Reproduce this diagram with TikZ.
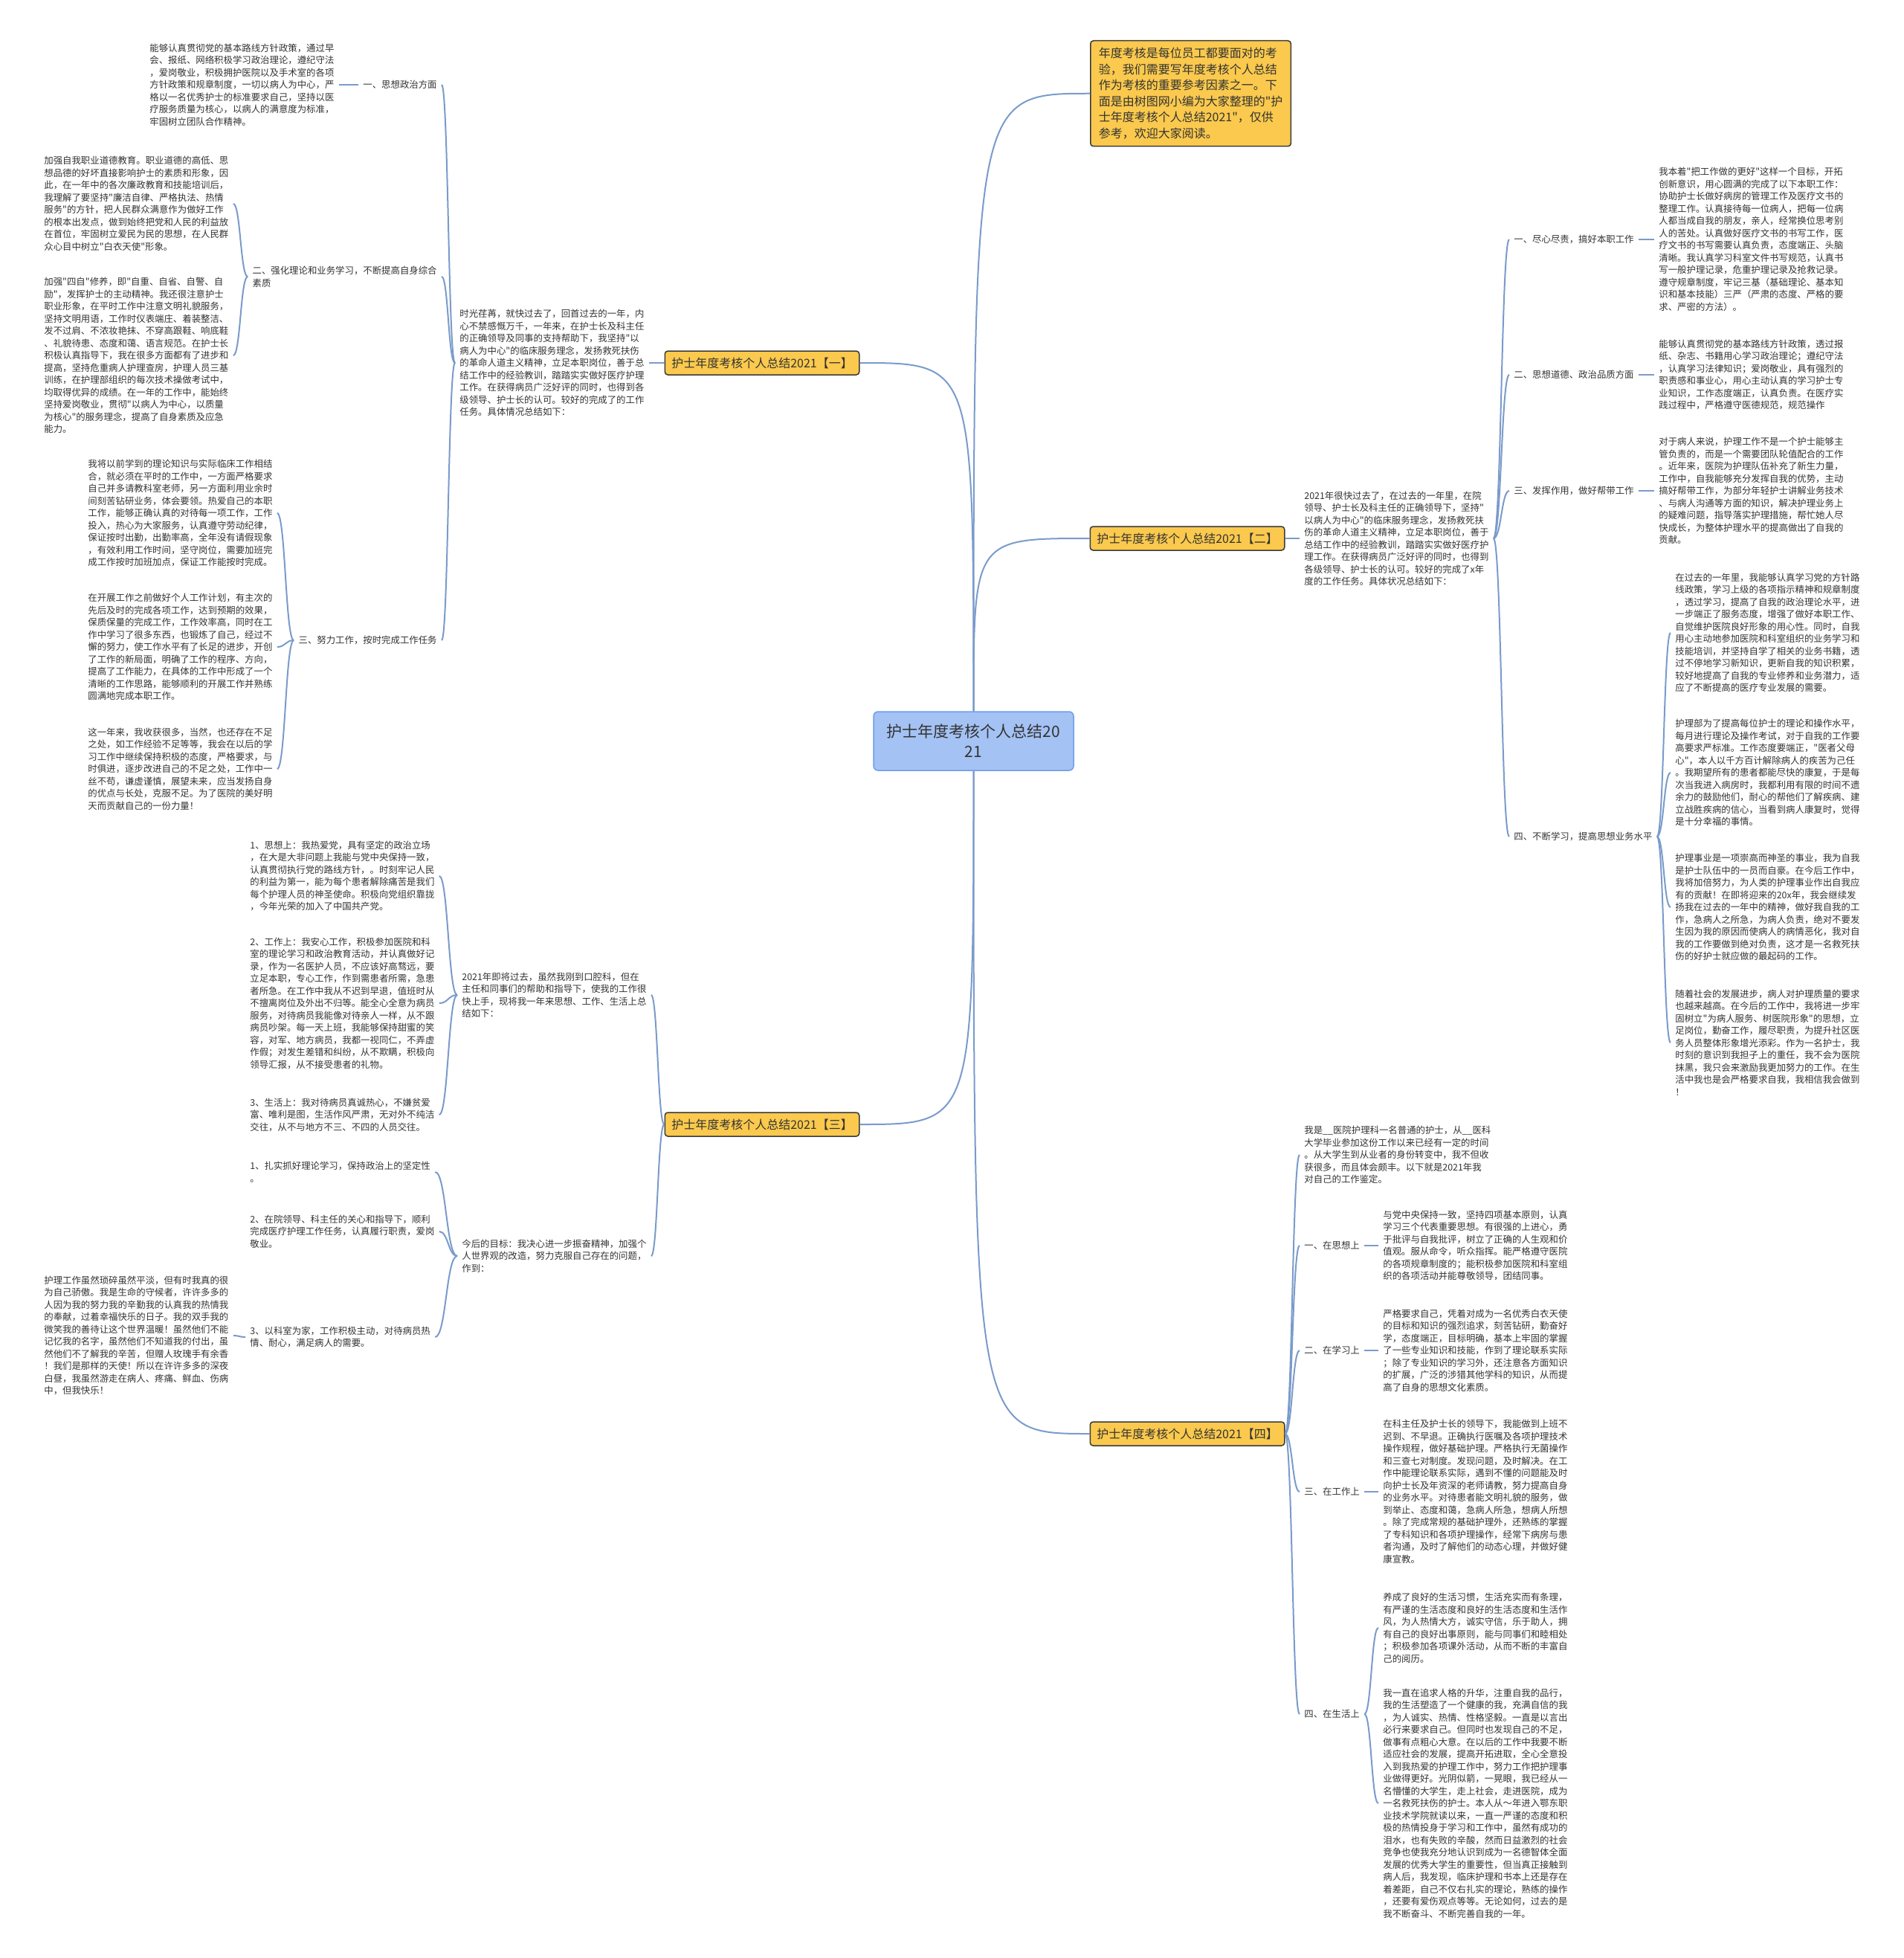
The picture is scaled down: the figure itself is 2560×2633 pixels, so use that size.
\documentclass[tikz,border=0pt]{standalone}
\usepackage{fontspec}
\setmainfont{Noto Sans CJK SC}
\newfontfamily\cjk{Noto Sans CJK SC}
\usetikzlibrary{calc}
\definecolor{yel}{HTML}{FAC94D}
\definecolor{brd}{HTML}{3A3A3A}
\definecolor{cfill}{HTML}{A4C2F4}
\definecolor{cbrd}{HTML}{6D9EEB}
\definecolor{linkc}{HTML}{7A9BCB}
\definecolor{txtc}{HTML}{333333}
\begin{document}
\begin{tikzpicture}[x=0.5pt,y=-0.5pt,
  blk/.style={font=\cjk\fontsize{6.2pt}{8.25pt}\selectfont, text=txtc, align=left, inner xsep=3pt, inner ysep=1pt, anchor=west},
  lblr/.style={blk, anchor=east},
  br/.style={draw=brd, fill=yel, rounded corners=2pt, line width=0.75pt, font=\cjk\fontsize{8pt}{10pt}\selectfont, text=txtc, inner xsep=4.5pt, inner ysep=0pt, minimum height=16pt},
  trbox/.style={draw=brd, fill=yel, rounded corners=2pt, line width=0.75pt, font=\cjk\fontsize{8pt}{10.75pt}\selectfont, text=txtc, align=left, minimum width=131.5pt, minimum height=71pt, inner xsep=5.5pt, anchor=north west},
  cnode/.style={draw=cbrd, fill=cfill, rounded corners=3pt, line width=0.75pt, minimum width=134.5pt, minimum height=39.5pt, align=center, font=\cjk\fontsize{10.5pt}{13.5pt}\selectfont, text=txtc},
  conn/.style={draw=linkc, line width=1pt},
  brk/.style={to path={let \p1=(\tikztostart), \p2=(\tikztotarget) in .. controls ({0.5*\x1+0.5*\x2},\y1) and ({0.5*\x1+0.5*\x2},\y2) .. (\tikztotarget)}}
]
\fill[white] (0,0) rectangle (2560,2633);
\path[use as bounding box] (0,0) rectangle (2560,2633);

% ---------- centre and main branches ----------
\node[cnode] (C) at (1309.5,996.5) {护士年度考核个人总结20\\21};
\node[br] (B1) at (1025,488) {护士年度考核个人总结2021【一】};
\node[br] (B3) at (1025,1512) {护士年度考核个人总结2021【三】};
\node[br] (B2) at (1597,724) {护士年度考核个人总结2021【二】};
\node[br] (B4) at (1597,1928) {护士年度考核个人总结2021【四】};
\node[trbox] (T) at (1466,54) {年度考核是每位员工都要面对的考\\验，我们需要写年度考核个人总结\\作为考核的重要参考因素之一。下\\面是由树图网小编为大家整理的"护\\士年度考核个人总结2021"，仅供\\参考，欢迎大家阅读。};

% ---------- branch 1 ----------
\node[blk] (I1) at (612,488) {时光荏苒，就快过去了，回首过去的一年，内\\心不禁感慨万千，一年来，在护士长及科主任\\的正确领导及同事的支持帮助下，我坚持"以\\病人为中心"的临床服务理念，发扬救死扶伤\\的革命人道主义精神，立足本职岗位，善于总\\结工作中的经验教训，踏踏实实做好医疗护理\\工作。在获得病员广泛好评的同时，也得到各\\级领导、护士长的认可。较好的完成了的工作\\任务。具体情况总结如下：};
\node[lblr] (L1) at (594,114) {一、思想政治方面};
\node[lblr] (L2) at (594,372) {二、强化理论和业务学习，不断提高自身综合\\素质};
\node[lblr] (L3) at (594,861) {三、努力工作，按时完成工作任务};
\node[blk] (A1) at (195,114) {能够认真贯彻党的基本路线方针政策，通过早\\会、报纸、网络积极学习政治理论，遵纪守法\\，爱岗敬业，积极拥护医院以及手术室的各项\\方针政策和规章制度，一切以病人为中心，严\\格以一名优秀护士的标准要求自己，坚持以医\\疗服务质量为核心，以病人的满意度为标准，\\牢固树立团队合作精神。};
\node[blk] (A2) at (53,274) {加强自我职业道德教育。职业道德的高低、思\\想品德的好坏直接影响护士的素质和形象，因\\此，在一年中的各次廉政教育和技能培训后，\\我理解了要坚持"廉洁自律、严格执法、热情\\服务"的方针，把人民群众满意作为做好工作\\的根本出发点，做到始终把党和人民的利益放\\在首位，牢固树立爱民为民的思想，在人民群\\众心目中树立"白衣天使"形象。};
\node[blk] (A3) at (53,478) {加强"四自"修养，即"自重、自省、自警、自\\励"，发挥护士的主动精神。我还很注意护士\\职业形象，在平时工作中注意文明礼貌服务，\\坚持文明用语，工作时仪表端庄、着装整洁、\\发不过肩、不浓妆艳抹、不穿高跟鞋、响底鞋\\、礼貌待患、态度和蔼、语言规范。在护士长\\积极认真指导下，我在很多方面都有了进步和\\提高，坚持危重病人护理查房，护理人员三基\\训练，在护理部组织的每次技术操做考试中，\\均取得优异的成绩。在一年的工作中，能始终\\坚持爱岗敬业，贯彻"以病人为中心，以质量\\为核心"的服务理念，提高了自身素质及应急\\能力。};
\node[blk] (BB1) at (112,690) {我将以前学到的理论知识与实际临床工作相结\\合，就必须在平时的工作中，一方面严格要求\\自己并多请教科室老师，另一方面利用业余时\\间刻苦钻研业务，体会要领。热爱自己的本职\\工作，能够正确认真的对待每一项工作，工作\\投入，热心为大家服务，认真遵守劳动纪律，\\保证按时出勤，出勤率高，全年没有请假现象\\，有效利用工作时间，坚守岗位，需要加班完\\成工作按时加班加点，保证工作能按时完成。};
\node[blk] (BB2) at (112,870) {在开展工作之前做好个人工作计划，有主次的\\先后及时的完成各项工作，达到预期的效果，\\保质保量的完成工作，工作效率高，同时在工\\作中学习了很多东西，也锻炼了自己，经过不\\懈的努力，使工作水平有了长足的进步，开创\\了工作的新局面，明确了工作的程序、方向，\\提高了工作能力，在具体的工作中形成了一个\\清晰的工作思路，能够顺利的开展工作并熟练\\圆满地完成本职工作。};
\node[blk] (BB3) at (112,1034) {这一年来，我收获很多，当然，也还存在不足\\之处，如工作经验不足等等，我会在以后的学\\习工作中继续保持积极的态度，严格要求，与\\时俱进，逐步改进自己的不足之处，工作中一\\丝不苟，谦虚谨慎，展望未来，应当发扬自身\\的优点与长处，克服不足。为了医院的美好明\\天而贡献自己的一份力量！};

% ---------- branch 3 ----------
\node[blk] (I3a) at (615,1338) {2021年即将过去，虽然我刚到口腔科，但在\\主任和同事们的帮助和指导下，使我的工作很\\快上手，现将我一年来思想、工作、生活上总\\结如下：};
\node[blk] (I3b) at (615,1689) {今后的目标：我决心进一步振奋精神，加强个\\人世界观的改造，努力克服自己存在的问题，\\作到：};
\node[blk] (C1) at (330,1178) {1、思想上：我热爱党，具有坚定的政治立场\\，在大是大非问题上我能与党中央保持一致，\\认真贯彻执行党的路线方针，。时刻牢记人民\\的利益为第一，能为每个患者解除痛苦是我们\\每个护理人员的神圣使命。积极向党组织靠拢\\，今年光荣的加入了中国共产党。};
\node[blk] (C2) at (330,1349) {2、工作上：我安心工作，积极参加医院和科\\室的理论学习和政治教育活动，并认真做好记\\录，作为一名医护人员，不应该好高骛远，要\\立足本职，专心工作，作到需患者所需，急患\\者所急。在工作中我从不迟到早退，值班时从\\不擅离岗位及外出不归等。能全心全意为病员\\服务，对待病员我能像对待亲人一样，从不跟\\病员吵架。每一天上班，我能够保持甜蜜的笑\\容，对军、地方病员，我都一视同仁，不弄虚\\作假；对发生差错和纠纷，从不欺瞒，积极向\\领导汇报，从不接受患者的礼物。};
\node[blk] (C3) at (330,1499) {3、生活上：我对待病员真诚热心，不嫌贫爱\\富、唯利是图，生活作风严肃，无对外不纯洁\\交往，从不与地方不三、不四的人员交往。};
\node[blk] (D1) at (330,1576) {1、扎实抓好理论学习，保持政治上的坚定性\\。};
\node[blk] (D2) at (330,1656) {2、在院领导、科主任的关心和指导下，顺利\\完成医疗护理工作任务，认真履行职责，爱岗\\敬业。};
\node[blk] (D3) at (330,1798) {3、以科室为家，工作积极主动，对待病员热\\情、耐心，满足病人的需要。};
\node[blk] (F) at (53,1796) {护理工作虽然琐碎虽然平淡，但有时我真的很\\为自己骄傲。我是生命的守候者，许许多多的\\人因为我的努力我的辛勤我的认真我的热情我\\的奉献，过着幸福快乐的日子。我的双手我的\\微笑我的善待让这个世界温暖！虽然他们不能\\记忆我的名字，虽然他们不知道我的付出，虽\\然他们不了解我的辛苦，但赠人玫瑰手有余香\\！我们是那样的天使！所以在许许多多的深夜\\白昼，我虽然游走在病人、疼痛、鲜血、伤病\\中，但我快乐！};

% ---------- branch 2 ----------
\node[blk] (I2) at (1748,724) {2021年很快过去了，在过去的一年里，在院\\领导、护士长及科主任的正确领导下，坚持"\\以病人为中心"的临床服务理念，发扬救死扶\\伤的革命人道主义精神，立足本职岗位，善于\\总结工作中的经验教训，踏踏实实做好医疗护\\理工作。在获得病员广泛好评的同时，也得到\\各级领导、护士长的认可。较好的完成了x年\\度的工作任务。具体状况总结如下：};
\node[blk] (R1) at (2030,322) {一、尽心尽责，搞好本职工作};
\node[blk] (R2) at (2030,504) {二、思想道德、政治品质方面};
\node[blk] (R3) at (2030,660) {三、发挥作用，做好帮带工作};
\node[blk] (R4) at (2030,1125) {四、不断学习，提高思想业务水平};
\node[blk] (H1) at (2225,322) {我本着"把工作做的更好"这样一个目标，开拓\\创新意识，用心圆满的完成了以下本职工作：\\协助护士长做好病房的管理工作及医疗文书的\\整理工作。认真接待每一位病人，把每一位病\\人都当成自我的朋友，亲人，经常换位思考别\\人的苦处。认真做好医疗文书的书写工作，医\\疗文书的书写需要认真负责，态度端正、头脑\\清晰。我认真学习科室文件书写规范，认真书\\写一般护理记录，危重护理记录及抢救记录。\\遵守规章制度，牢记三基（基础理论、基本知\\识和基本技能）三严（严肃的态度、严格的要\\求、严密的方法）。};
\node[blk] (H2) at (2225,504) {能够认真贯彻党的基本路线方针政策，透过报\\纸、杂志、书籍用心学习政治理论；遵纪守法\\，认真学习法律知识；爱岗敬业，具有强烈的\\职责感和事业心，用心主动认真的学习护士专\\业知识，工作态度端正，认真负责。在医疗实\\践过程中，严格遵守医德规范，规范操作};
\node[blk] (H3) at (2225,660) {对于病人来说，护理工作不是一个护士能够主\\管负责的，而是一个需要团队轮值配合的工作\\。近年来，医院为护理队伍补充了新生力量，\\工作中，自我能够充分发挥自我的优势，主动\\搞好帮带工作，为部分年轻护士讲解业务技术\\、与病人沟通等方面的知识，解决护理业务上\\的疑难问题，指导落实护理措施，帮忙她人尽\\快成长，为整体护理水平的提高做出了自我的\\贡献。};
\node[blk] (H4) at (2247,851) {在过去的一年里，我能够认真学习党的方针路\\线政策，学习上级的各项指示精神和规章制度\\，透过学习，提高了自我的政治理论水平，进\\一步端正了服务态度，增强了做好本职工作、\\自觉维护医院良好形象的用心性。同时，自我\\用心主动地参加医院和科室组织的业务学习和\\技能培训，并坚持自学了相关的业务书籍，透\\过不停地学习新知识，更新自我的知识积累，\\较好地提高了自我的专业修养和业务潜力，适\\应了不断提高的医疗专业发展的需要。};
\node[blk] (H5) at (2247,1039) {护理部为了提高每位护士的理论和操作水平，\\每月进行理论及操作考试，对于自我的工作要\\高要求严标准。工作态度要端正，"医者父母\\心"，本人以千方百计解除病人的疾苦为己任\\。我期望所有的患者都能尽快的康复，于是每\\次当我进入病房时，我都利用有限的时间不遗\\余力的鼓励他们，耐心的帮他们了解疾病、建\\立战胜疾病的信心，当看到病人康复时，觉得\\是十分幸福的事情。};
\node[blk] (H6) at (2247,1220) {护理事业是一项崇高而神圣的事业，我为自我\\是护士队伍中的一员而自豪。在今后工作中，\\我将加倍努力，为人类的护理事业作出自我应\\有的贡献！在即将迎来的20x年，我会继续发\\扬我在过去的一年中的精神，做好我自我的工\\作，急病人之所急，为病人负责，绝对不要发\\生因为我的原因而使病人的病情恶化，我对自\\我的工作要做到绝对负责，这才是一名救死扶\\伤的好护士就应做的最起码的工作。};
\node[blk] (H7) at (2247,1402) {随着社会的发展进步，病人对护理质量的要求\\也越来越高。在今后的工作中，我将进一步牢\\固树立"为病人服务、树医院形象"的思想，立\\足岗位，勤奋工作，履尽职责，为提升社区医\\务人员整体形象增光添彩。作为一名护士，我\\时刻的意识到我担子上的重任，我不会为医院\\抹黑，我只会来激励我更加努力的工作。在生\\活中我也是会严格要求自我，我相信我会做到\\！};

% ---------- branch 4 ----------
\node[blk] (I4) at (1748,1553) {我是\_\_医院护理科一名普通的护士，从\_\_医科\\大学毕业参加这份工作以来已经有一定的时间\\。从大学生到从业者的身份转变中，我不但收\\获很多，而且体会颇丰。以下就是2021年我\\对自己的工作鉴定。};
\node[blk] (KL1) at (1748,1675) {一、在思想上};
\node[blk] (KL2) at (1748,1816) {二、在学习上};
\node[blk] (KL3) at (1748,2006) {三、在工作上};
\node[blk] (KL4) at (1748,2305) {四、在生活上};
\node[blk] (K1) at (1854,1675) {与党中央保持一致，坚持四项基本原则，认真\\学习三个代表重要思想。有很强的上进心，勇\\于批评与自我批评，树立了正确的人生观和价\\值观。服从命令，听众指挥。能严格遵守医院\\的各项规章制度的；能积极参加医院和科室组\\织的各项活动并能尊敬领导，团结同事。};
\node[blk] (K2) at (1854,1816) {严格要求自己，凭着对成为一名优秀白衣天使\\的目标和知识的强烈追求，刻苦钻研，勤奋好\\学，态度端正，目标明确，基本上牢固的掌握\\了一些专业知识和技能，作到了理论联系实际\\；除了专业知识的学习外，还注意各方面知识\\的扩展，广泛的涉猎其他学科的知识，从而提\\高了自身的思想文化素质。};
\node[blk] (K3) at (1854,2006) {在科主任及护士长的领导下，我能做到上班不\\迟到、不早退。正确执行医嘱及各项护理技术\\操作规程，做好基础护理。严格执行无菌操作\\和三查七对制度。发现问题，及时解决。在工\\作中能理论联系实际，遇到不懂的问题能及时\\向护士长及年资深的老师请教，努力提高自身\\的业务水平。对待患者能文明礼貌的服务，做\\到举止、态度和蔼，急病人所急，想病人所想\\。除了完成常规的基础护理外，还熟练的掌握\\了专科知识和各项护理操作，经常下病房与患\\者沟通，及时了解他们的动态心理，并做好健\\康宣教。};
\node[blk] (K4) at (1854,2189) {养成了良好的生活习惯，生活充实而有条理，\\有严谨的生活态度和良好的生活态度和生活作\\风，为人热情大方，诚实守信，乐于助人，拥\\有自己的良好出事原则，能与同事们和睦相处\\；积极参加各项课外活动，从而不断的丰富自\\己的阅历。};
\node[blk] (K5) at (1854,2425) {我一直在追求人格的升华，注重自我的品行，\\我的生活塑造了一个健康的我，充满自信的我\\，为人诚实、热情、性格坚毅。一直是以言出\\必行来要求自己。但同时也发现自己的不足，\\做事有点粗心大意。在以后的工作中我要不断\\适应社会的发展，提高开拓进取，全心全意投\\入到我热爱的护理工作中，努力工作把护理事\\业做得更好。光阴似箭，一晃眼，我已经从一\\名懵懂的大学生，走上社会，走进医院，成为\\一名救死扶伤的护士。本人从～年进入鄂东职\\业技术学院就读以来，一直一严谨的态度和积\\极的热情投身于学习和工作中，虽然有成功的\\泪水，也有失败的辛酸，然而日益激烈的社会\\竞争也使我充分地认识到成为一名德智体全面\\发展的优秀大学生的重要性，但当真正接触到\\病人后，我发现，临床护理和书本上还是存在\\着差距，自己不仅右扎实的理论，熟练的操作\\，还要有爱伤观点等等。无论如何，过去的是\\我不断奋斗、不断完善自我的一年。};

% ---------- connectors ----------
\draw[conn] (C.north) .. controls (C.north |- B1.east) .. (B1.east);
\draw[conn] (C.north) .. controls (C.north |- T.west) .. (T.west);
\draw[conn] (C.north) .. controls (C.north |- B2.west) .. (B2.west);
\draw[conn] (C.south) .. controls (C.south |- B3.east) .. (B3.east);
\draw[conn] (C.south) .. controls (C.south |- B4.west) .. (B4.west);

\draw[conn] (B1.west) to[brk] (I1.east);
\draw[conn] (I1.west) to[brk] (L1.east);
\draw[conn] (I1.west) to[brk] (L2.east);
\draw[conn] (I1.west) to[brk] (L3.east);
\draw[conn] (L1.west) to[brk] (A1.east);
\draw[conn] (L2.west) to[brk] (A2.east);
\draw[conn] (L2.west) to[brk] (A3.east);
\draw[conn] (L3.west) to[brk] (BB1.east);
\draw[conn] (L3.west) to[brk] (BB2.east);
\draw[conn] (L3.west) to[brk] (BB3.east);

\draw[conn] (B3.west) to[brk] (I3a.east);
\draw[conn] (B3.west) to[brk] (I3b.east);
\draw[conn] (I3a.west) to[brk] (C1.east);
\draw[conn] (I3a.west) to[brk] (C2.east);
\draw[conn] (I3a.west) to[brk] (C3.east);
\draw[conn] (I3b.west) to[brk] (D1.east);
\draw[conn] (I3b.west) to[brk] (D2.east);
\draw[conn] (I3b.west) to[brk] (D3.east);
\draw[conn] (D3.west) to[brk] (F.east);

\draw[conn] (B2.east) to[brk] (I2.west);
\draw[conn] (I2.east) to[brk] (R1.west);
\draw[conn] (I2.east) to[brk] (R2.west);
\draw[conn] (I2.east) to[brk] (R3.west);
\draw[conn] (I2.east) to[brk] (R4.west);
\draw[conn] (R1.east) to[brk] (H1.west);
\draw[conn] (R2.east) to[brk] (H2.west);
\draw[conn] (R3.east) to[brk] (H3.west);
\draw[conn] (R4.east) to[brk] (H4.west);
\draw[conn] (R4.east) to[brk] (H5.west);
\draw[conn] (R4.east) to[brk] (H6.west);
\draw[conn] (R4.east) to[brk] (H7.west);

\draw[conn] (B4.east) to[brk] (I4.west);
\draw[conn] (B4.east) to[brk] (KL1.west);
\draw[conn] (B4.east) to[brk] (KL2.west);
\draw[conn] (B4.east) to[brk] (KL3.west);
\draw[conn] (B4.east) to[brk] (KL4.west);
\draw[conn] (KL1.east) to[brk] (K1.west);
\draw[conn] (KL2.east) to[brk] (K2.west);
\draw[conn] (KL3.east) to[brk] (K3.west);
\draw[conn] (KL4.east) to[brk] (K4.west);
\draw[conn] (KL4.east) to[brk] (K5.west);
\end{tikzpicture}
\end{document}
